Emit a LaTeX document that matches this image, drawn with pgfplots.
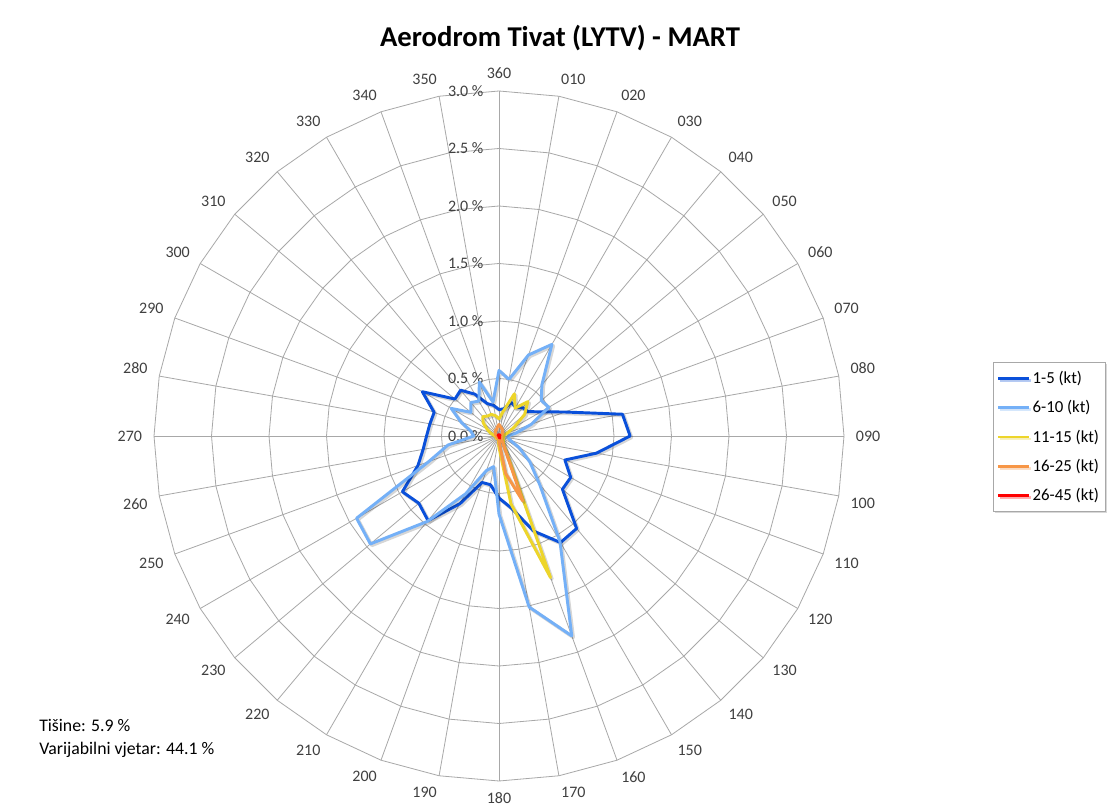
\documentclass[border=0pt]{standalone}
\usepackage{pgfplots}
\pgfplotsset{compat=1.18}
\usepackage{pgfplotstable}
\usepackage{fontspec}
\setmainfont{Carlito}
\usetikzlibrary{shadows}
\definecolor{c1}{HTML}{0A50DA}
\definecolor{c2}{HTML}{74B0F7}
\definecolor{c3}{HTML}{EDD52A}
\definecolor{c4}{HTML}{F79646}
\definecolor{c5}{HTML}{FF0000}
\definecolor{gridc}{HTML}{A8A8A8}
\definecolor{txt}{HTML}{404040}

\pgfplotstableread{
dir a b c d e
10 0.24 0.50 0.22 0.08 0.01
20 0.31 0.75 0.39 0.07 0.01
30 0.29 0.92 0.28 0.06 0.01
40 0.32 0.58 0.39 0.05 0.01
50 0.33 0.48 0.29 0.04 0.01
60 0.42 0.50 0.15 0.03 0.01
70 0.61 0.30 0.08 0.03 0.00
80 1.09 0.15 0.05 0.02 0.00
90 1.14 0.08 0.04 0.02 0.00
100 0.86 0.08 0.04 0.02 0.00
110 0.61 0.10 0.04 0.02 0.00
120 0.72 0.20 0.04 0.02 0.00
130 0.72 0.35 0.05 0.03 0.00
140 1.05 0.55 0.06 0.03 0.01
150 1.07 1.06 0.08 0.06 0.01
160 0.88 1.85 1.31 0.60 0.02
170 0.64 1.51 0.60 0.33 0.01
180 0.54 0.68 0.10 0.05 0.01
190 0.43 0.27 0.03 0.02 0.00
200 0.43 0.32 0.03 0.02 0.00
210 0.68 0.58 0.03 0.02 0.00
220 0.96 0.97 0.03 0.02 0.00
230 0.91 1.46 0.03 0.02 0.00
240 0.97 1.43 0.03 0.02 0.00
250 0.75 0.65 0.03 0.02 0.00
260 0.67 0.45 0.03 0.02 0.00
270 0.63 0.22 0.03 0.02 0.00
280 0.61 0.25 0.05 0.03 0.00
290 0.60 0.35 0.08 0.03 0.00
300 0.77 0.48 0.12 0.04 0.00
310 0.50 0.32 0.18 0.04 0.01
320 0.52 0.38 0.22 0.05 0.01
330 0.42 0.35 0.20 0.06 0.01
340 0.30 0.50 0.20 0.06 0.01
350 0.27 0.30 0.18 0.08 0.01
360 0.23 0.57 0.15 0.10 0.01
370 0.24 0.50 0.22 0.08 0.01
}\rose

\begin{document}
\begin{tikzpicture}
\path[use as bounding box, fill=white] (0,0) rectangle (831.75pt,608.25pt);
% grid (polygonal, like a radar chart)
\begin{scope}[shift={(374.25pt,281.25pt)}]
  \foreach \r in {0.5,1.0,1.5,2.0,2.5,3.0}{
    \draw[gridc, line width=0.6pt] (90:{\r*86.25pt})
      \foreach \a in {80,70,...,-260}{ -- (\a:{\r*86.25pt}) } -- cycle;
  }
  \foreach \a in {0,10,...,350}{
    \draw[gridc, line width=0.6pt] (0,0) -- (\a:258.75pt);
  }
  \foreach \d in {10,20,...,360}{
    \pgfmathtruncatemacro\ang{90-\d}
    \ifnum\d<90 \def\anc{south west}\fi
    \ifnum\d=90 \def\anc{west}\fi
    \ifnum\d>90 \ifnum\d<180 \def\anc{north west}\fi\fi
    \ifnum\d=180 \def\anc{north}\fi
    \ifnum\d>180 \ifnum\d<270 \def\anc{north east}\fi\fi
    \ifnum\d=270 \def\anc{east}\fi
    \ifnum\d>270 \ifnum\d<360 \def\anc{south east}\fi\fi
    \ifnum\d=360 \def\anc{south}\fi
    \node[anchor=\anc, inner sep=0pt, text=txt, font=\fontsize{12}{14}\selectfont]
      at (\ang:267.5pt) {\ifnum\d<100 0\fi\d};
  }
  \foreach \k/\t in {0/0.0,1/0.5,2/1.0,3/1.5,4/2.0,5/2.5,6/3.0}{
    \node[anchor=east, inner sep=0pt, text=txt, font=\fontsize{12}{14}\selectfont]
      at (-11.5pt,{\k*43.125pt}) {\t{} \%};
  }
\end{scope}
\node[anchor=base, font=\fontsize{21.5}{26}\selectfont\bfseries] at (420pt,573pt)
  {Aerodrom Tivat (LYTV) - MART};
\node[anchor=base west, inner sep=0pt, font=\fontsize{13.3}{16}\selectfont, text=black] at (29.25pt,59.6pt)
  {Tišine: 5.9 \%};
\node[anchor=base west, inner sep=0pt, font=\fontsize{13.3}{16}\selectfont, text=black] at (29.25pt,42.75pt)
  {Varijabilni vjetar: 44.1 \%};

\begin{axis}[
  at={(374.25pt,281.25pt)}, anchor=origin,
  x=86.25pt, y=86.25pt,
  xmin=-3, xmax=3, ymin=-3, ymax=3,
  hide axis, clip=false,
  legend cell align=left,
  legend style={at={(axis cs:4.296,0.643)}, anchor=north west,
    draw=gridc, line width=0.6pt, fill=white,
    drop shadow={shadow xshift=1.5pt, shadow yshift=-1.5pt, opacity=0.3},
    font=\fontsize{12.6}{14}\selectfont, text=black,
    inner xsep=2.5pt, inner ysep=4.5pt, row sep=7.3pt},
  legend image code/.code={\draw[#1, line width=1.9pt] (0pt,0pt) -- (23pt,0pt);},
  every axis plot/.append style={line width=2.2pt, line join=round},
  shade/.style={forget plot, black, opacity=0.16, line width=2.6pt,
      transform canvas={xshift=1.1pt, yshift=-1.1pt}},
]
\addplot[shade, data cs=polar] table[x expr=90-\thisrow{dir}, y=a] {\rose};
\addplot[c1, data cs=polar] table[x expr=90-\thisrow{dir}, y=a] {\rose};
\addlegendentry{1-5 (kt)}
\addplot[shade, data cs=polar] table[x expr=90-\thisrow{dir}, y=b] {\rose};
\addplot[c2, data cs=polar] table[x expr=90-\thisrow{dir}, y=b] {\rose};
\addlegendentry{6-10 (kt)}
\addplot[shade, data cs=polar] table[x expr=90-\thisrow{dir}, y=c] {\rose};
\addplot[c3, data cs=polar] table[x expr=90-\thisrow{dir}, y=c] {\rose};
\addlegendentry{11-15 (kt)}
\addplot[shade, data cs=polar] table[x expr=90-\thisrow{dir}, y=d] {\rose};
\addplot[c4, data cs=polar] table[x expr=90-\thisrow{dir}, y=d] {\rose};
\addlegendentry{16-25 (kt)}
\addplot[c5, data cs=polar] table[x expr=90-\thisrow{dir}, y=e] {\rose};
\addlegendentry{26-45 (kt)}
\end{axis}
\end{tikzpicture}
\end{document}
